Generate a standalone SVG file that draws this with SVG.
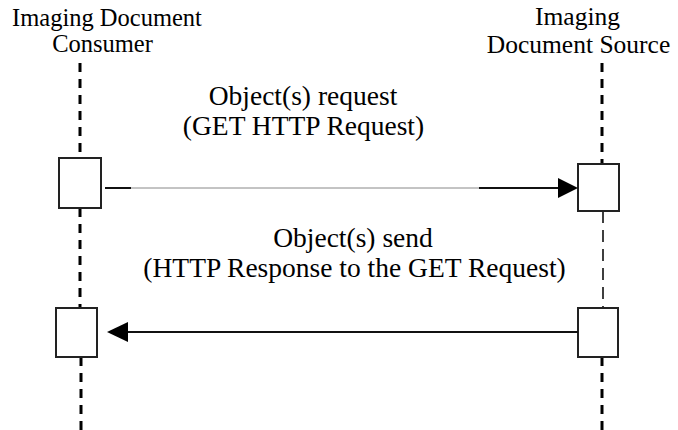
<svg xmlns="http://www.w3.org/2000/svg" width="678" height="430" viewBox="0 0 678 430">
<style>
  text { font-family: "Liberation Serif", "Times New Roman", Times, serif; fill: #000; text-anchor: middle; }
  .hdr-l { font-size: 24.5px; }
  .hdr-r { font-size: 25.5px; }
  .msg { font-size: 27.5px; }
  .life { stroke: #000; stroke-width: 3; stroke-dasharray: 9 7; fill: none; }
  .life-thin { stroke: #000; stroke-width: 1.5; stroke-dasharray: 12 7; fill: none; }
  .act { fill: #fff; stroke: #222; stroke-width: 2; }
  .line { stroke: #111; stroke-width: 2; fill: none; }
  .line-thin { stroke: #888; stroke-width: 1; fill: none; }
  .head { fill: #000; }
</style>
<rect width="678" height="430" fill="#fff"/>

<g id="consumer">
  <text class="hdr-l" x="107" y="26">Imaging Document</text>
  <text class="hdr-l" x="102.5" y="52">Consumer</text>
  <line class="life" x1="80" y1="63" x2="80" y2="158"/>
  <line class="life" x1="80" y1="208" x2="80" y2="308"/>
  <line class="life" x1="81" y1="357" x2="81" y2="430"/>
</g>

<g id="source">
  <text class="hdr-r" x="577.5" y="25">Imaging</text>
  <text class="hdr-r" x="578.5" y="53">Document Source</text>
  <line class="life" x1="602" y1="63" x2="602" y2="164"/>
  <line class="life-thin" x1="603" y1="211" x2="603" y2="308"/>
  <line class="life" x1="602" y1="357" x2="602" y2="430"/>
</g>

<g id="consumer-act1"><rect class="act" x="59" y="158" width="42" height="50"/></g>
<g id="source-act1"><rect class="act" x="578" y="164" width="41" height="47"/></g>
<g id="consumer-act2"><rect class="act" x="56" y="308" width="41" height="49"/></g>
<g id="source-act2"><rect class="act" x="578" y="308" width="40" height="49"/></g>

<g id="connectors">
  <g id="msg-request">
    <line class="line" x1="105" y1="188" x2="131" y2="188"/>
    <line class="line-thin" x1="131" y1="188" x2="479" y2="188"/>
    <line class="line" x1="479" y1="188" x2="560" y2="188"/>
    <polygon class="head" points="558,178 578,188 558,198"/>
    <text class="msg" x="303" y="105">Object(s) request</text>
    <text class="msg" x="303.5" y="135">(GET HTTP Request)</text>
  </g>
  <g id="msg-send">
    <line class="line" x1="578" y1="332" x2="126" y2="332"/>
    <polygon class="head" points="128,322 107,332 128,342"/>
    <text class="msg" x="353" y="247">Object(s) send</text>
    <text class="msg" x="354.5" y="277">(HTTP Response to the GET Request)</text>
  </g>
</g>
</svg>
